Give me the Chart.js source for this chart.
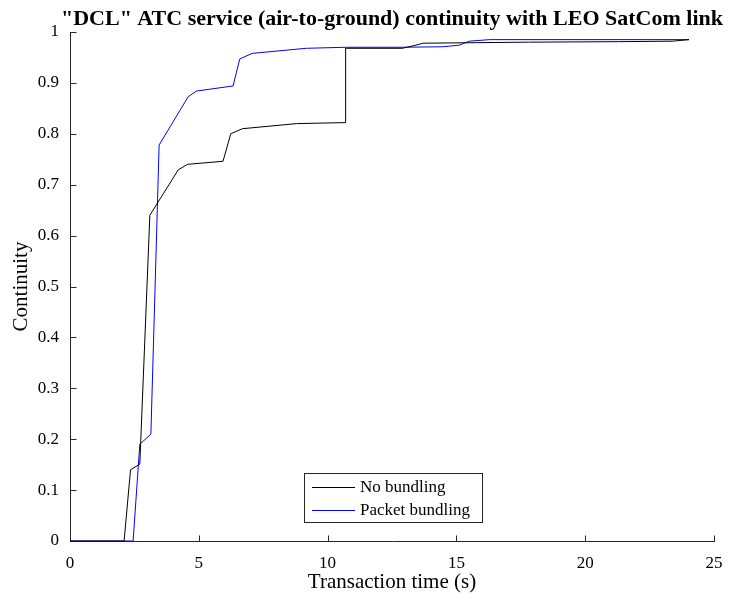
<!DOCTYPE html>
<html>
<head>
<meta charset="utf-8">
<script src="https://cdn.jsdelivr.net/npm/chart.js@4.4.1/dist/chart.umd.min.js"></script>
<style>
  html, body { margin: 0; padding: 0; background: #ffffff; }
  canvas { display: block; }
</style>
</head>
<body>
<canvas id="chart" width="729" height="601"></canvas>
<script>
// Chart text
const chartTitle = '"DCL" ATC service (air-to-ground) continuity with LEO SatCom link';
const xAxisTitle = 'Transaction time (s)';
const yAxisTitle = 'Continuity';
const seriesLabels = ['No bundling', 'Packet bundling'];

// Series: transaction time (s) and continuity
const noBundlingTime = [0, 2.1, 2.35, 2.71, 3.1, 4.2, 4.56, 5.94, 6.24, 6.69, 8.79, 10.7, 10.7, 12.9, 13.5, 13.7, 17.8, 21.3, 23.4, 24.03];
const noBundlingCont = [0, 0, 0.14, 0.151, 0.64, 0.729, 0.74, 0.746, 0.80, 0.81, 0.82, 0.822, 0.968, 0.968, 0.975, 0.978, 0.980, 0.981, 0.982, 0.985];

const bundlingTime = [0, 2.45, 2.71, 3.14, 3.46, 4.59, 4.91, 6.33, 6.59, 7.07, 9.17, 10.72, 12.9, 14.47, 15.1, 15.5, 16.3, 24.03];
const bundlingCont = [0, 0, 0.19, 0.21, 0.778, 0.873, 0.884, 0.894, 0.947, 0.958, 0.968, 0.970, 0.970, 0.971, 0.974, 0.982, 0.985, 0.985];

// Tick values
const xTickValues = [0, 5, 10, 15, 20, 25];
const yTickValues = [0, 0.1, 0.2, 0.3, 0.4, 0.5, 0.6, 0.7, 0.8, 0.9, 1];

const seriesColors = ['#000000', '#0000ff'];
const axisColor = '#262626';
const serif = "'Liberation Serif', 'Times New Roman', serif";

const toPoints = (xs, ys) => xs.map((x, i) => ({ x: x, y: ys[i] }));

// Axis lines with inward tick marks, drawn beneath the curves
const axesPlugin = {
  id: 'axesPlugin',
  beforeDatasetsDraw(chart) {
    const { ctx, chartArea: a, scales: { x, y } } = chart;
    ctx.save();
    ctx.strokeStyle = axisColor;
    ctx.lineWidth = 1;
    ctx.beginPath();
    const left = Math.round(a.left) + 0.5;
    const bottom = Math.round(a.bottom) + 0.5;
    ctx.moveTo(left, Math.round(a.top));
    ctx.lineTo(left, bottom);
    ctx.lineTo(Math.round(a.right) + 1, bottom);
    xTickValues.forEach(v => {
      const px = Math.round(x.getPixelForValue(v)) + 0.5;
      ctx.moveTo(px, bottom);
      ctx.lineTo(px, bottom - 6);
    });
    yTickValues.forEach(v => {
      const py = Math.round(y.getPixelForValue(v)) + 0.5;
      ctx.moveTo(left, py);
      ctx.lineTo(left + 6, py);
    });
    ctx.stroke();
    ctx.restore();
  }
};

// Title above the plot and a boxed legend inside it
const overlayPlugin = {
  id: 'overlayPlugin',
  afterDraw(chart) {
    const { ctx, chartArea: a } = chart;
    ctx.save();
    ctx.fillStyle = '#000000';
    ctx.font = 'bold 22px ' + serif;
    ctx.textAlign = 'center';
    ctx.textBaseline = 'alphabetic';
    ctx.fillText(chartTitle, (a.left + a.right) / 2, 25);

    // legend box
    const bx = 304.5, by = 473.5, bw = 178, bh = 49;
    ctx.fillStyle = '#ffffff';
    ctx.fillRect(bx, by, bw, bh);
    ctx.strokeStyle = axisColor;
    ctx.lineWidth = 1;
    ctx.strokeRect(bx, by, bw, bh);
    ctx.font = '17px ' + serif;
    ctx.textAlign = 'left';
    ctx.textBaseline = 'middle';
    chart.data.datasets.forEach((ds, i) => {
      const cy = 487 + i * 22.5;
      ctx.strokeStyle = ds.borderColor;
      ctx.beginPath();
      ctx.moveTo(312, Math.round(cy) + 0.5);
      ctx.lineTo(355, Math.round(cy) + 0.5);
      ctx.stroke();
      ctx.fillStyle = '#000000';
      ctx.fillText(ds.label, 360, cy + 1);
    });
    ctx.restore();
  }
};

new Chart(document.getElementById('chart'), {
  type: 'line',
  data: {
    datasets: [
      {
        label: seriesLabels[0],
        data: toPoints(noBundlingTime, noBundlingCont),
        borderColor: seriesColors[0],
        borderWidth: 1,
        pointRadius: 0,
        tension: 0,
        fill: false,
        clip: false
      },
      {
        label: seriesLabels[1],
        data: toPoints(bundlingTime, bundlingCont),
        borderColor: seriesColors[1],
        borderWidth: 1,
        pointRadius: 0,
        tension: 0,
        fill: false,
        clip: false
      }
    ]
  },
  options: {
    responsive: false,
    animation: false,
    devicePixelRatio: 1,
    layout: { padding: { top: 32, right: 15, left: 0, bottom: 0 } },
    plugins: {
      legend: { display: false },
      title: { display: false },
      tooltip: { enabled: false }
    },
    scales: {
      x: {
        type: 'linear',
        min: 0,
        max: 25,
        afterFit: s => { s.height = 60; s.paddingLeft = 0; s.paddingRight = 0; },
        afterBuildTicks: s => { s.ticks = xTickValues.map(v => ({ value: v })); },
        grid: { display: false, drawTicks: false },
        border: { display: false },
        ticks: {
          color: '#000000',
          padding: 12,
          maxRotation: 0,
          font: { family: serif, size: 17 }
        },
        title: {
          display: true,
          text: xAxisTitle,
          color: '#000000',
          font: { family: serif, size: 21 },
          padding: { top: 0, bottom: 6 }
        }
      },
      y: {
        type: 'linear',
        min: 0,
        max: 1,
        afterFit: s => { s.width = 70; s.paddingTop = 0; s.paddingBottom = 0; },
        afterBuildTicks: s => { s.ticks = yTickValues.map(v => ({ value: v })); },
        grid: { display: false, drawTicks: false },
        border: { display: false },
        ticks: {
          color: '#000000',
          padding: 11,
          font: { family: serif, size: 17 },
          callback: v => String(Math.round(v * 10) / 10)
        },
        title: {
          display: true,
          text: yAxisTitle,
          color: '#000000',
          font: { family: serif, size: 21 },
          padding: { top: 9, bottom: 0 }
        }
      }
    }
  },
  plugins: [axesPlugin, overlayPlugin]
});
</script>
</body>
</html>
